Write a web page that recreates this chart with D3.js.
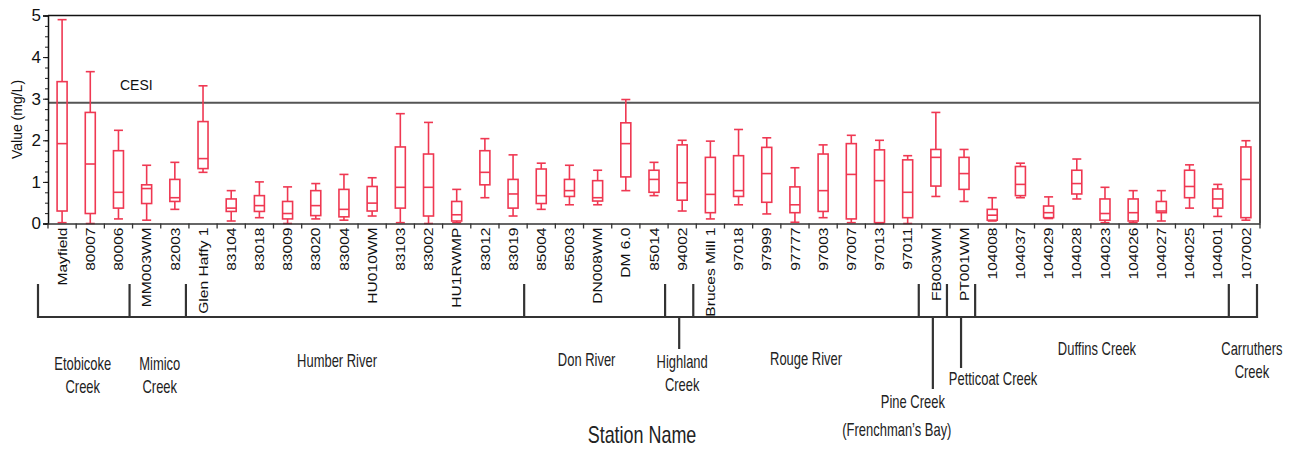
<!DOCTYPE html>
<html>
<head>
<meta charset="utf-8">
<script src="https://cdn.jsdelivr.net/npm/d3@7"></script>
<style>
  body { margin: 0; background: #fff; }
  svg { display: block; font-family: "Liberation Sans", Arial, sans-serif; }
</style>
</head>
<body>
<svg id="chart" width="1294" height="450"></svg>
<script>
// Stations along the x axis, west to east
const stations = ["Mayfield", "80007", "80006", "MM003WM", "82003", "Glen Haffy 1", "83104", "83018",
  "83009", "83020", "83004", "HU010WM", "83103", "83002", "HU1RWMP", "83012", "83019", "85004",
  "85003", "DN008WM", "DM 6.0", "85014", "94002", "Bruces Mill 1", "97018", "97999", "97777",
  "97003", "97007", "97013", "97011", "FB003WM", "PT001WM", "104008", "104037", "104029",
  "104028", "104023", "104026", "104027", "104025", "104001", "107002"];

// Box-plot statistics per station (mg/L)
const whiskerLow = [0.02, 0, 0.11, 0.08, 0.34, 1.23, 0.06, 0.14, 0, 0.11, 0.08, 0.18, 0.02, 0, 0.02,
  0.62, 0.18, 0.34, 0.45, 0.45, 0.79, 0.67, 0.30, 0.11, 0.45, 0.23, 0.03, 0.14, 0.02, 0, 0,
  0.65, 0.53, 0.06, 0.62, 0.12, 0.59, 0.02, 0.02, 0.06, 0.37, 0.17, 0.08];
const quartile1 = [0.30, 0.24, 0.37, 0.48, 0.53, 1.32, 0.29, 0.29, 0.11, 0.19, 0.16, 0.30, 0.37, 0.18, 0.06,
  0.93, 0.37, 0.48, 0.65, 0.54, 1.12, 0.75, 0.56, 0.26, 0.65, 0.51, 0.26, 0.29, 0.11, 0.02, 0.14,
  0.90, 0.82, 0.08, 0.67, 0.14, 0.71, 0.08, 0.06, 0.26, 0.62, 0.37, 0.14];
const medians = [1.92, 1.43, 0.75, 0.84, 0.62, 1.56, 0.37, 0.43, 0.24, 0.43, 0.34, 0.49, 0.87, 0.87, 0.21,
  1.23, 0.71, 0.67, 0.79, 0.62, 1.92, 1.06, 0.98, 0.70, 0.79, 1.20, 0.45, 0.79, 1.18, 1.03, 0.75,
  1.59, 1.20, 0.20, 0.94, 0.26, 0.96, 0.24, 0.26, 0.30, 0.89, 0.59, 1.06];
const quartile3 = [3.41, 2.67, 1.75, 0.93, 1.06, 2.45, 0.59, 0.67, 0.53, 0.79, 0.82, 0.89, 1.84, 1.67, 0.53,
  1.75, 1.06, 1.31, 1.06, 1.03, 2.42, 1.28, 1.89, 1.59, 1.63, 1.83, 0.88, 1.67, 1.92, 1.77, 1.53,
  1.78, 1.59, 0.34, 1.37, 0.42, 1.28, 0.59, 0.59, 0.53, 1.28, 0.83, 1.84];
const whiskerHigh = [4.90, 3.65, 2.24, 1.40, 1.47, 3.31, 0.79, 1.00, 0.88, 0.96, 1.18, 1.10, 2.64, 2.43, 0.82,
  2.04, 1.65, 1.45, 1.40, 1.28, 2.98, 1.47, 2.00, 1.98, 2.26, 2.06, 1.34, 1.89, 2.12, 2.00, 1.63,
  2.67, 1.78, 0.62, 1.45, 0.64, 1.55, 0.87, 0.79, 0.79, 1.41, 0.94, 1.99];

const yTicks = [0, 1, 2, 3, 4, 5];
const cesiGuideline = 2.9;

// Watersheds and the number of consecutive stations in each
const watershedNames = [["Etobicoke", "Creek"], ["Mimico", "Creek"], ["Humber River"], ["Don River"],
  ["Highland", "Creek"], ["Rouge River"], ["Pine Creek", "(Frenchman\u2019s Bay)"], ["Petticoat Creek"],
  ["Duffins Creek"], ["Carruthers", "Creek"]];
const watershedSizes = [3, 2, 12, 5, 1, 8, 1, 1, 9, 1];

// Placement of the watershed captions under the bracket
const captionLayout = [
  { dx: -1, y: 370, drop: 0 },
  { dx: 2, y: 370, drop: 0 },
  { dx: -18, y: 367, drop: 0 },
  { dx: -8, y: 366, drop: 0 },
  { dx: 3, y: 368, drop: 32, stem: true },
  { dx: 0, y: 365, drop: 0 },
  { dx: -20, y: 408, drop: 72, stem: true, lineDx: [0, -16], lh: 28 },
  { dx: 32, y: 385, drop: 51, stem: true },
  { dx: -5, y: 355, drop: 0 },
  { dx: 9, y: 355, drop: 0 }
];

const svg = d3.select("#chart");
const plot = { left: 48, right: 1260, top: 15.5, bottom: 223.5 };

const x = d3.scaleBand().domain(stations).range([plot.left, plot.right]).padding(0);
const y = d3.scaleLinear().domain([0, 5]).range([plot.bottom, plot.top]);

const boxColor = "#ef3852";
const boxW = 10, capW = 9;

// Frame: top and right edges
svg.append("path")
  .attr("d", `M${plot.left},${plot.top}H${plot.right}V${plot.bottom}`)
  .attr("fill", "none").attr("stroke", "#111").attr("stroke-width", 1.5);

// CESI guideline
svg.append("line")
  .attr("x1", plot.left).attr("x2", plot.right)
  .attr("y1", y(cesiGuideline)).attr("y2", y(cesiGuideline))
  .attr("stroke", "#555").attr("stroke-width", 2);
svg.append("text")
  .attr("x", 120).attr("y", y(cesiGuideline) - 13)
  .attr("font-size", 14).attr("fill", "#111").text("CESI");

// Box plots
const rows = stations.map((s, i) => ({
  s, lo: whiskerLow[i], q1: quartile1[i], med: medians[i], q3: quartile3[i], hi: whiskerHigh[i]
}));
const boxes = svg.append("g").attr("fill", "none").attr("stroke", boxColor).attr("stroke-width", 1.6);
const b = boxes.selectAll("g").data(rows).join("g")
  .attr("transform", d => `translate(${x(d.s) + x.bandwidth() / 2},0)`);
b.append("line").attr("y1", d => y(d.hi)).attr("y2", d => y(d.q3));
b.append("line").attr("y1", d => y(d.q1)).attr("y2", d => y(d.lo));
b.append("line").attr("x1", -capW / 2).attr("x2", capW / 2).attr("y1", d => y(d.hi)).attr("y2", d => y(d.hi));
b.append("line").attr("x1", -capW / 2).attr("x2", capW / 2).attr("y1", d => y(d.lo)).attr("y2", d => y(d.lo));
b.append("rect").attr("x", -boxW / 2).attr("width", boxW)
  .attr("y", d => y(d.q3)).attr("height", d => y(d.q1) - y(d.q3));
b.append("line").attr("x1", -boxW / 2).attr("x2", boxW / 2).attr("y1", d => y(d.med)).attr("y2", d => y(d.med));

// Y axis with minor ticks
const yMinor = svg.append("g").attr("transform", `translate(${plot.left},0)`)
  .call(d3.axisLeft(y).tickValues(d3.range(0, 5.001, 0.25)).tickSize(3).tickFormat(""));
yMinor.select(".domain").remove();
yMinor.selectAll("line").attr("stroke", "#222");
const yAxis = svg.append("g").attr("transform", `translate(${plot.left},0)`)
  .call(d3.axisLeft(y).tickValues(yTicks).tickSize(5).tickPadding(2).tickFormat(d3.format("d")));
yAxis.select(".domain").attr("stroke", "#111").attr("stroke-width", 1.5);
yAxis.selectAll("line").attr("stroke", "#111");
yAxis.selectAll("text").attr("font-size", 17).attr("fill", "#111")
  .attr("font-family", "'Liberation Sans', Arial, sans-serif");

svg.append("text")
  .attr("transform", `translate(22,${(plot.top + plot.bottom) / 2}) rotate(-90)`)
  .attr("text-anchor", "middle").attr("font-size", 14).attr("fill", "#111")
  .text("Value (mg/L)");

// X axis: ticks on station boundaries, rotated station labels
const xAxis = svg.append("g").attr("transform", `translate(0,${plot.bottom})`)
  .call(d3.axisBottom(x).tickSize(0).tickPadding(0));
xAxis.select(".domain").attr("stroke", "#333").attr("stroke-width", 1.5);
xAxis.selectAll(".tick text")
  .attr("font-size", 13).attr("fill", "#111")
  .attr("font-family", "'Liberation Sans', Arial, sans-serif")
  .attr("text-anchor", "end")
  .attr("x", 0).attr("y", 0).attr("dy", "0.36em")
  .attr("transform", "translate(0,4) rotate(-90) scale(1.2,1)");
const bounds = stations.map(s => x(s)).concat([x.range()[1]]);
svg.append("g").selectAll("line").data(bounds).join("line")
  .attr("x1", d => d).attr("x2", d => d)
  .attr("y1", plot.bottom).attr("y2", plot.bottom + 5)
  .attr("stroke", "#333").attr("stroke-width", 1.3);

// Watershed bracket
const bracketY = 317, bracketTop = 284, shift = -3;
let start = 0;
const groups = watershedSizes.map((n, i) => {
  const g = { lines: watershedNames[i], first: start, last: start + n - 1 };
  start += n;
  return g;
});
const edge = i => (i === 0 ? x.range()[0] - 10 : bounds[i] + shift);
const br = svg.append("g").attr("stroke", "#333").attr("stroke-width", 2.2).attr("fill", "none");
br.append("line").attr("x1", edge(0)).attr("x2", edge(stations.length))
  .attr("y1", bracketY).attr("y2", bracketY);
const edges = [0].concat(groups.map(g => g.last + 1));
br.selectAll(".edge").data(edges).join("line").attr("class", "edge")
  .attr("x1", d => edge(d)).attr("x2", d => edge(d))
  .attr("y1", bracketTop).attr("y2", bracketY + 1);

const captions = svg.append("g").attr("fill", "#222")
  .attr("font-family", "'Liberation Sans', Arial, sans-serif").attr("font-size", 18);
groups.forEach((g, i) => {
  const lay = captionLayout[i];
  const cx = (edge(g.first) + edge(g.last + 1)) / 2;
  if (lay.stem) {
    const sx = x(stations[g.first]) + x.bandwidth() / 2 + shift;
    br.append("line").attr("x1", sx).attr("x2", sx)
      .attr("y1", bracketY).attr("y2", bracketY + lay.drop);
  }
  g.lines.forEach((t, k) => {
    const lx = cx + lay.dx + (lay.lineDx ? lay.lineDx[k] : 0);
    const ly = lay.y + k * (lay.lh || 23);
    captions.append("text")
      .attr("transform", `translate(${lx},${ly}) scale(0.72,1)`)
      .attr("text-anchor", "middle").text(t);
  });
});

// Axis title
svg.append("text")
  .attr("transform", `translate(642,443) scale(0.78,1)`)
  .attr("text-anchor", "middle").attr("font-size", 23).attr("fill", "#222")
  .text("Station Name");
</script>
</body>
</html>
